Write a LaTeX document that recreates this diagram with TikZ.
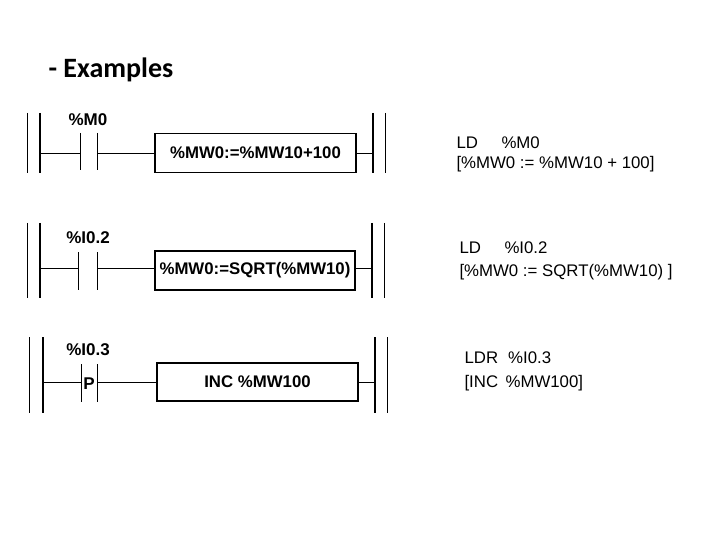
\documentclass[tikz,border=0pt]{standalone}
\usepackage{fontspec}
\setmainfont{Liberation Sans}
\newfontfamily\titlefont{Carlito}
\usetikzlibrary{positioning}
\begin{document}
\begin{tikzpicture}[x=1pt,y=-1pt,
  rail/.style = {line width=2.2pt},
  edge/.style = {line width=1pt},
  wire/.style = {line width=0.8pt},
  blk/.style = {draw, line width=1.2pt, rectangle, inner sep=0pt, font=\bfseries\fontsize{16.8}{20}\selectfont},
  lbl/.style = {font=\bfseries\fontsize{17}{20}\selectfont},
  il/.style = {anchor=west, font=\fontsize{16.8}{20}\selectfont}]
\useasboundingbox (0,0) rectangle (720,540);
\node[anchor=west, font=\titlefont\bfseries\fontsize{28}{32}\selectfont] (title) at (45,70) {- Examples};
% rung 1
\draw[edge] (27,113) -- (27,173);  \draw[rail] (40,113) -- (40,173);
\draw[rail] (373,113) -- (373,173); \draw[edge] (385,113) -- (385,173);
\node[lbl] (l1) at (88,120) {\%M0};
\coordinate (c1a) at (80,153); \coordinate (c1b) at (97,153);
\draw[wire] (80,133) -- (80,170); \draw[wire] (97,133) -- (97,170);
\node[blk, minimum width=201pt, minimum height=39pt] (b1) at (255.5,153) {\%MW0:=\%MW10+100};
\draw[wire] (40,153) -- (c1a); \draw[wire] (c1b) -- (b1.west); \draw[wire] (b1.east) -- (373,153);
\node[il] (t1a) at (453,143) {LD\hspace{1.4em}\%M0};
\node[il] (t1b) at (453,164) {[\%MW0 := \%MW10 + 100]};
% rung 2
\draw[edge] (27,223) -- (27,298);  \draw[rail] (40,223) -- (40,298);
\draw[rail] (372,223) -- (372,298); \draw[edge] (384,223) -- (384,298);
\node[lbl] (l2) at (88,238) {\%I0.2};
\coordinate (c2a) at (78,268); \coordinate (c2b) at (97,268);
\draw[wire] (78,252) -- (78,290); \draw[wire] (97,252) -- (97,290);
\node[blk, minimum width=200pt, minimum height=39pt] (b2) at (255,270.5) {\%MW0:=SQRT(\%MW10)};
\draw[wire] (40,268) -- (c2a); \draw[wire] (c2b) -- (155,268); \draw[wire] (355,268) -- (372,268);
\node[il] (t2a) at (456,248) {LD\hspace{1.4em}\%I0.2};
\node[il] (t2b) at (456,272) {[\%MW0 := SQRT(\%MW10) ]};
% rung 3
\draw[edge] (29,337) -- (29,413);  \draw[rail] (43,337) -- (43,413);
\draw[rail] (375,337) -- (375,413); \draw[edge] (387,337) -- (387,413);
\node[lbl] (l3) at (88,350) {\%I0.3};
\coordinate (c3a) at (81,382); \coordinate (c3b) at (97,382);
\draw[wire] (81,364) -- (81,402); \draw[wire] (97,364) -- (97,402);
\node[lbl] (p3) at (89,384) {P};
\node[blk, minimum width=201pt, minimum height=38pt] (b3) at (257.5,382) {INC \%MW100};
\draw[wire] (43,382) -- (c3a); \draw[wire] (c3b) -- (b3.west); \draw[wire] (b3.east) -- (375,382);
\node[il] (t3a) at (461,358) {LDR\hspace{0.6em}\%I0.3};
\node[il] (t3b) at (461,383) {[INC\, \%MW100]};
\end{tikzpicture}
\end{document}
